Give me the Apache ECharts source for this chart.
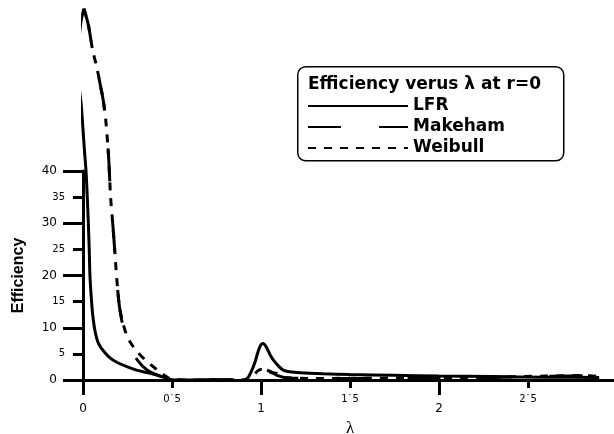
<!DOCTYPE html>
<html>
<head>
<meta charset="utf-8">
<script src="https://cdn.jsdelivr.net/npm/echarts@6/dist/echarts.min.js"></script>
<style>
  html, body { margin: 0; padding: 0; background: #fff; }
  #main { width: 614px; height: 434px; }
</style>
</head>
<body>
<div id="main"></div>
<script>
// data: [lambda, efficiency]
var lfr = [
  [0.005, 71.1], [-0.012, 68.5], [-0.022, 65], [-0.025, 60], [-0.021, 56], [-0.011, 53],
  [0.0, 48], [0.008, 44], [0.017, 40], [0.024, 35], [0.03, 30], [0.035, 25], [0.039, 20],
  [0.046, 16], [0.053, 13], [0.062, 10.5], [0.075, 8.2], [0.09, 6.8], [0.114, 5.6],
  [0.15, 4.3], [0.19, 3.4], [0.25, 2.5], [0.3, 1.9], [0.35, 1.5], [0.41, 1.0], [0.45, 0.55],
  [0.49, 0.1], [0.55, 0], [0.7, 0], [0.8, 0.05], [0.88, -0.1], [0.92, 0.2], [0.945, 1.6],
  [0.966, 3.4], [0.985, 5.6], [1.0, 6.8], [1.012, 7.0], [1.03, 6.3], [1.05, 4.9], [1.07, 3.8],
  [1.1, 2.6], [1.125, 1.9], [1.16, 1.6], [1.22, 1.4], [1.35, 1.2], [1.5, 1.05], [1.75, 0.9],
  [2.0, 0.75], [2.3, 0.65], [2.6, 0.55], [2.9, 0.5]
];
var makeham = [
  [0.005, 71.1], [0.03, 68], [0.055, 63], [0.077, 60], [0.1, 56], [0.114, 53.5], [0.13, 49],
  [0.145, 42], [0.155, 35], [0.167, 30], [0.18, 24], [0.193, 18], [0.205, 14], [0.22, 11],
  [0.24, 8.5], [0.27, 6], [0.31, 3.6], [0.36, 1.9], [0.42, 0.9], [0.5, 0.1], [0.6, 0],
  [0.8, 0], [0.9, 0], [0.95, 0.5], [0.98, 1.6], [1.0, 2.0], [1.03, 1.9], [1.06, 1.5],
  [1.09, 0.9], [1.15, 0.4], [1.3, 0.3], [1.6, 0.3], [2.0, 0.35], [2.3, 0.5], [2.6, 0.7],
  [2.85, 0.8], [2.9, 0.6]
];
var weibull = [
  [0.005, 71.1], [0.03, 68], [0.055, 63], [0.077, 60], [0.1, 56], [0.114, 53.5], [0.13, 49],
  [0.145, 42], [0.155, 35], [0.167, 30], [0.18, 24], [0.193, 18], [0.205, 14], [0.22, 11.5],
  [0.245, 8.6], [0.27, 7], [0.305, 5.4], [0.345, 4], [0.386, 2.8], [0.43, 1.6], [0.47, 0.6],
  [0.5, 0.1], [0.6, 0], [0.8, 0.05], [0.9, 0], [0.95, 0.6], [0.98, 1.7], [1.0, 2.0],
  [1.03, 1.8], [1.06, 1.4], [1.085, 1.3], [1.12, 0.5], [1.3, 0.3], [1.6, 0.35], [2.0, 0.4],
  [2.3, 0.55], [2.6, 0.75], [2.8, 0.85], [2.9, 0.7]
];
var seriesNames = ['LFR', 'Makeham', 'Weibull'];
var legendTitle = 'Efficiency verus \u03bb at r=0';

var chart = echarts.init(document.getElementById('main'));

var black = '#000';
var lab = { color: black, fontFamily: 'DejaVu Sans' };

function line(name, data, type) {
  return {
    name: name, type: 'line', data: data, xAxisIndex: 0, yAxisIndex: 0,
    showSymbol: false, symbol: 'none', smooth: 0.3, clip: false,
    itemStyle: { color: black },
    lineStyle: { color: black, width: 3, type: type }
  };
}

var option = {
  backgroundColor: '#fff',
  animation: false,
  // grid 0 holds the curves, grids 1/2 only draw the 0..40 y axis
  grid: [
    { left: 83, right: -3, top: 4, bottom: 54, outerBoundsMode: 'none' },
    { left: 83, right: -3, top: 171, bottom: 54, outerBoundsMode: 'none' },
    { left: 83, right: -3, top: 171, bottom: 54, outerBoundsMode: 'none' }
  ],
  xAxis: [
    {
      gridIndex: 0, type: 'value', min: 0, max: 3, interval: 1,
      axisLine: { lineStyle: { color: black, width: 3 } },
      axisTick: { length: 15, lineStyle: { color: black, width: 3 } },
      axisLabel: Object.assign({ fontSize: 12, margin: 23, formatter: function (v) { return v === 3 ? '' : v; } }, lab),
      splitLine: { show: false },
      name: '\u03bb', nameLocation: 'middle', nameGap: 39,
      nameTextStyle: { color: black, fontFamily: 'Liberation Serif', fontSize: 17 }
    },
    {
      gridIndex: 1, type: 'value', min: 0, max: 3, interval: 0.5,
      axisLine: { show: false },
      axisTick: { length: 8, lineStyle: { color: black, width: 3 } },
      axisLabel: Object.assign({ fontSize: 10, margin: 14, formatter: function (v) {
        return (v * 2) % 2 === 1 ? String(v).replace('.', '\u02d9') : '';
      } }, lab),
      splitLine: { show: false }
    },
    { gridIndex: 2, type: 'value', min: 0, max: 3, show: false }
  ],
  yAxis: [
    { gridIndex: 0, type: 'value', min: 0, max: 72, show: false },
    {
      gridIndex: 1, type: 'value', min: 0, max: 40, interval: 10,
      axisLine: { show: true, lineStyle: { color: black, width: 3 } },
      axisTick: { show: true, length: 20, lineStyle: { color: black, width: 3 } },
      axisLabel: Object.assign({ fontSize: 12, margin: 26 }, lab),
      splitLine: { show: false },
      name: 'Efficiency', nameLocation: 'middle', nameGap: 56,
      nameTextStyle: { color: black, fontFamily: 'Liberation Sans', fontWeight: 'bold', fontSize: 16 }
    },
    {
      gridIndex: 2, type: 'value', min: 0, max: 40, interval: 5,
      axisLine: { show: false },
      axisTick: { show: true, length: 10, lineStyle: { color: black, width: 3 } },
      axisLabel: Object.assign({ fontSize: 10, margin: 18, formatter: function (v) {
        return v % 10 === 5 ? v : '';
      } }, lab),
      splitLine: { show: false }
    }
  ],
  legend: {
    orient: 'vertical', left: 307, top: 96, padding: 0,
    itemWidth: 100, itemHeight: 14, itemGap: 1,
    itemStyle: { opacity: 0 },
    data: [
      { name: seriesNames[0] },
      { name: seriesNames[1] },
      { name: seriesNames[2] }
    ],
    textStyle: { color: black, fontFamily: 'DejaVu Sans', fontWeight: 'bold', fontSize: 17, lineHeight: 20 }
  },
  graphic: [
    {
      type: 'rect', left: 297, top: 66, z: 0,
      shape: { width: 266, height: 94, r: 8 },
      style: { fill: 'transparent', stroke: black, lineWidth: 1.5 }
    },
    {
      type: 'text', left: 308, top: 76,
      style: { text: legendTitle, fill: black, font: 'bold 17px "DejaVu Sans"' }
    }
  ],
  series: [
    line(seriesNames[1], makeham, [33, 38]),
    line(seriesNames[2], weibull, [8, 8]),
    line(seriesNames[0], lfr, 'solid')
  ]
};

chart.setOption(option);
</script>
</body>
</html>
